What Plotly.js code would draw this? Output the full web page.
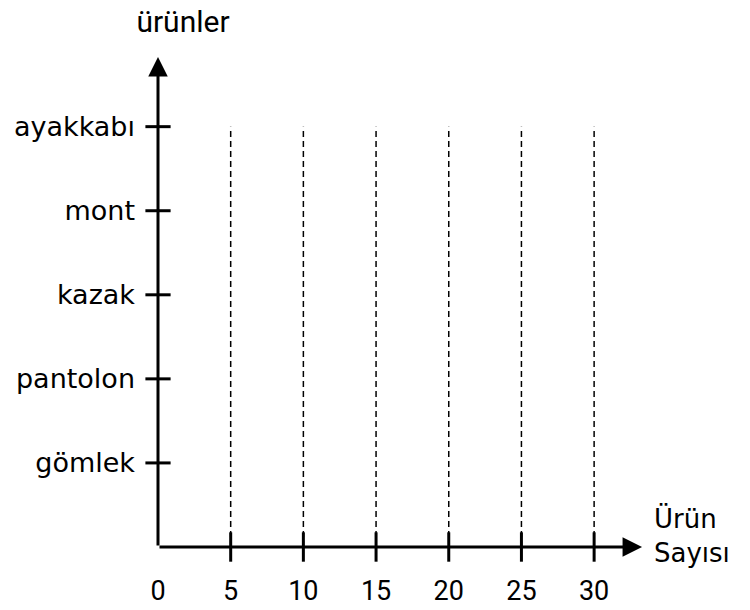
<!DOCTYPE html>
<html>
<head>
<meta charset="utf-8">
<script src="https://cdn.plot.ly/plotly-3.0.1.min.js"></script>
<style>html,body{margin:0;padding:0;background:#fff;}</style>
</head>
<body>
<div id="chart" style="width:750px;height:610px;"></div>
<script>
// Data
const categories = ["gömlek", "pantolon", "kazak", "mont", "ayakkabı"];
const categoryPositions = [1, 2, 3, 4, 5];
const xTickValues = [0, 5, 10, 15, 20, 25, 30];
const xTickLabels = ["0", "5", "10", "15", "20", "25", "30"];
const gridValues = [5, 10, 15, 20, 25, 30];
const xAxisTip = 33.3;
const yAxisTip = 5.83;

const labelFont = "DejaVu Sans, Verdana, sans-serif";
const numFont = "Roboto, Arial, sans-serif";

// dashed guide lines
const gx = [], gy = [];
gridValues.forEach(v => { gx.push(v, v, null); gy.push(0, 5, null); });

const traces = [
  {
    x: gx, y: gy, mode: "lines", type: "scatter", hoverinfo: "skip", cliponaxis: false,
    line: {color: "#000", width: 1.5, dash: "6px,4px"}
  },
  {
    x: gridValues, y: gridValues.map(() => 0), mode: "markers", type: "scatter", hoverinfo: "skip", cliponaxis: false,
    marker: {symbol: "line-ns-open", size: 21, color: "#000", line: {color: "#000", width: 3}}
  },
  {
    x: categoryPositions.map(() => 0), y: categoryPositions, mode: "markers", type: "scatter", hoverinfo: "skip", cliponaxis: false,
    marker: {symbol: "line-ew-open", size: 18, color: "#000", line: {color: "#000", width: 3}}
  }
];

const layout = {
  width: 750, height: 610,
  margin: {l: 158, r: 105, t: 51.4, b: 63, pad: 0},
  paper_bgcolor: "#fff", plot_bgcolor: "#fff",
  showlegend: false,
  title: {
    text: "ürünler", x: 0.244, xanchor: "center", y: 0.964, yanchor: "middle",
    font: {family: numFont, size: 30, color: "#000"}
  },
  xaxis: {
    range: [0, 33.5], showgrid: false, zeroline: false, showline: false,
    tickmode: "array", tickvals: xTickValues, ticktext: xTickLabels,
    ticks: "", ticklabelstandoff: 25,
    tickfont: {family: numFont, size: 27, color: "#000"},
    fixedrange: true
  },
  yaxis: {
    range: [0, 5.9], showgrid: false, zeroline: false, showline: false,
    tickmode: "array", tickvals: categoryPositions, ticktext: categories,
    ticks: "", ticklabelstandoff: 22,
    tickfont: {family: labelFont, size: 27, color: "#000"},
    fixedrange: true
  },
  annotations: [
    {
      x: xAxisTip, y: 0, ax: 0, ay: 0, xref: "x", yref: "y", axref: "x", ayref: "y",
      showarrow: true, arrowhead: 2, arrowsize: 1.3, arrowwidth: 3, arrowcolor: "#000", text: "", standoff: 0
    },
    {
      x: 0, y: yAxisTip, ax: 0, ay: 0, xref: "x", yref: "y", axref: "x", ayref: "y",
      showarrow: true, arrowhead: 2, arrowsize: 1.3, arrowwidth: 3, arrowcolor: "#000", text: "", standoff: 0
    },
    {
      x: 1.014, y: 0.024, xref: "paper", yref: "paper", xanchor: "left", yanchor: "middle",
      text: "Ürün<br>Sayısı", align: "left", showarrow: false,
      font: {family: labelFont, size: 26, color: "#000"}
    }
  ]
};

Plotly.newPlot("chart", traces, layout, {displayModeBar: false, staticPlot: true});
</script>
</body>
</html>
